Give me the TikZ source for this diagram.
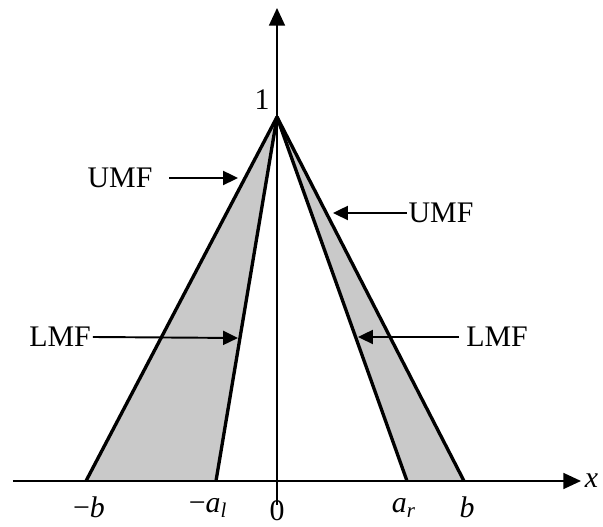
\documentclass[tikz,border=0pt]{standalone}
\usepackage{fontspec}
\setmainfont{Liberation Serif}
\usetikzlibrary{arrows.meta, calc}

\begin{document}
\begin{tikzpicture}[
    axis/.style={line width=1.1pt, -{Triangle[length=10pt, width=9pt]}},
    mf/.style={line width=1.9pt, line join=round},
    lbl/.style={font=\fontsize{17}{20}\selectfont, inner sep=1pt},
    pointer/.style={line width=1.1pt, -{Triangle[length=8.5pt, width=8pt]}}
]
    \useasboundingbox (0,0) rectangle (12.06,10.54);

    \coordinate (P) at (5.54, 8.2);
    \coordinate (Lb) at (1.72, 0.92);
    \coordinate (La) at (4.32, 0.92);
    \coordinate (Ra) at (8.14, 0.92);
    \coordinate (Rb) at (9.28, 0.92);
    \coordinate (X0) at (0.26, 0.92);
    \coordinate (X1) at (11.62, 0.92);
    \coordinate (Y0) at (5.54, 0.44);
    \coordinate (Y1) at (5.54, 10.38);

    \fill[gray!42] (P) -- (Lb) -- (La) -- cycle;
    \fill[gray!42] (P) -- (Ra) -- (Rb) -- cycle;

    \draw[axis] (X0) -- (X1);
    \draw[axis] (Y0) -- (Y1);

    \draw[mf] (Lb) -- (P) -- (Rb);
    \draw[mf] (La) -- (P) -- (Ra);

    \node[right, lbl, inner sep=2pt] (xl) at (X1) {\textit{x}};
    \node[lbl] (zero) at (5.54, 0.32) {0};
    \node[lbl] (one) at (5.24, 8.54) {1};
    \node[lbl] (lbl-b) at (1.78, 0.4) {−\textit{b}};
    \node[lbl] (lbl-al) at (4.16, 0.38) {−\textit{a}\textsubscript{\textit{l}}};
    \node[lbl] (lbl-ar) at (8.08, 0.38) {\textit{a}\textsubscript{\textit{r}}};
    \node[lbl] (lbl-rb) at (9.34, 0.4) {\textit{b}};

    \coordinate (tUL) at (4.76, 6.98);
    \coordinate (tUR) at (6.66, 6.28);
    \coordinate (tLL) at (4.76, 3.78);
    \coordinate (tLR) at (7.16, 3.80);

    \node[lbl] (umfL) at (2.4, 6.98) {UMF};
    \node[lbl] (umfR) at (8.82, 6.28) {UMF};
    \node[lbl] (lmfL) at (1.2, 3.80) {LMF};
    \node[lbl] (lmfR) at (9.94, 3.80) {LMF};

    \draw[pointer] (umfL.east) ++(0.3,0) -- (tUL);
    \draw[pointer] (umfR.west) -- (tUR);
    \draw[pointer] (lmfL.east) -- (tLL);
    \draw[pointer] (lmfR.west) ++(-0.1,0) -- (tLR);
\end{tikzpicture}
\end{document}
